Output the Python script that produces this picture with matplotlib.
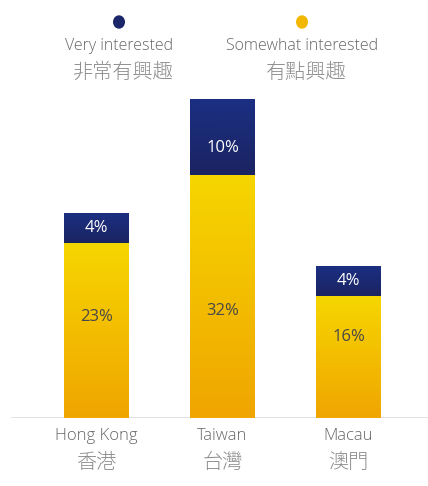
import numpy as np
import matplotlib
matplotlib.use("Agg")
import matplotlib.pyplot as plt
from matplotlib.colors import LinearSegmentedColormap

# survey shares, percent
regions_en = ["Hong Kong", "Taiwan", "Macau"]
regions_zh = ["香港", "台灣", "澳門"]
somewhat = [23, 32, 16]
very = [4, 10, 4]
# where each value label sits inside its segment (fraction of segment height)
somewhat_lab = [0.58, 0.44, 0.67]
very_lab = [0.5, 0.35, 0.5]
legend_en = ["Very interested", "Somewhat interested"]
legend_zh = ["非常有興趣", "有點興趣"]

YEL = LinearSegmentedColormap.from_list("yel", ["#f0a500", "#f6d600"])
BLU = LinearSegmentedColormap.from_list("blu", ["#1b2462", "#1b2f82"])
LATIN = ["Open Sans", "DejaVu Sans"]
CJK = ["Noto Sans CJK JP", "DejaVu Sans"]

W, H = 428, 486
fig = plt.figure(figsize=(W / 100, H / 100), dpi=100)
base_y, top_y = 418, 90
ax = fig.add_axes([11 / W, (H - base_y) / H, (W - 11) / W, (base_y - top_y) / H])
ax.set_xlim(-85.5 / 126, (W - 96.5) / 126)
ax.set_ylim(0, (base_y - top_y) / 7.6)
ax.axis("off")
ax.axhline(0, color="#dddddd", lw=1.2, zorder=1)

grad = np.linspace(0, 1, 256).reshape(-1, 1)


def grad_bar(x, bottom, height, cmap):
    bar = ax.bar(x, height, bottom=bottom, width=65 / 126, color="none",
                 edgecolor="none", zorder=2)[0]
    im = ax.imshow(grad, cmap=cmap, aspect="auto", origin="lower",
                   extent=(x - 0.26, x + 0.26, bottom, bottom + height), zorder=2)
    im.set_clip_path(bar)


for i in range(len(regions_en)):
    grad_bar(i, 0, somewhat[i], YEL)
    grad_bar(i, somewhat[i], very[i], BLU)
    ax.text(i, somewhat[i] * somewhat_lab[i], f"{somewhat[i]}%", ha="center", va="center",
            fontsize=12, color="#484848", family=LATIN, zorder=3)
    ax.text(i, somewhat[i] + very[i] * very_lab[i], f"{very[i]}%", ha="center", va="center",
            fontsize=12, color="white", family=LATIN, zorder=3)
    ax.text(i, -18 / 7.6, regions_en[i], ha="center", va="center",
            fontsize=12, color="#666666", family=LATIN, fontweight="light")
    ax.text(i, -44 / 7.6, regions_zh[i], ha="center", va="center",
            fontsize=14.5, color="#8c8c8c", family=CJK, fontweight=300)

# legend at the top
leg_x = [119, 302]
leg_c = ["#1b2569", "#f2b800"]
for k in range(2):
    fig.patches.append(plt.Circle((leg_x[k] / W, 1 - 22 / H), 6 / H,
                                  transform=fig.transFigure, color=leg_c[k]))
    fig.text(leg_x[k] / W, 1 - 46 / H, legend_en[k], ha="center", va="center",
             fontsize=11.5, color="#666666", family=LATIN, fontweight="light")
    fig.text(leg_x[k] / W + 3 / W, 1 - 72 / H, legend_zh[k], ha="center", va="center",
             fontsize=14.5, color="#8c8c8c", family=CJK, fontweight=300)

fig.savefig("out.png", dpi=100)
